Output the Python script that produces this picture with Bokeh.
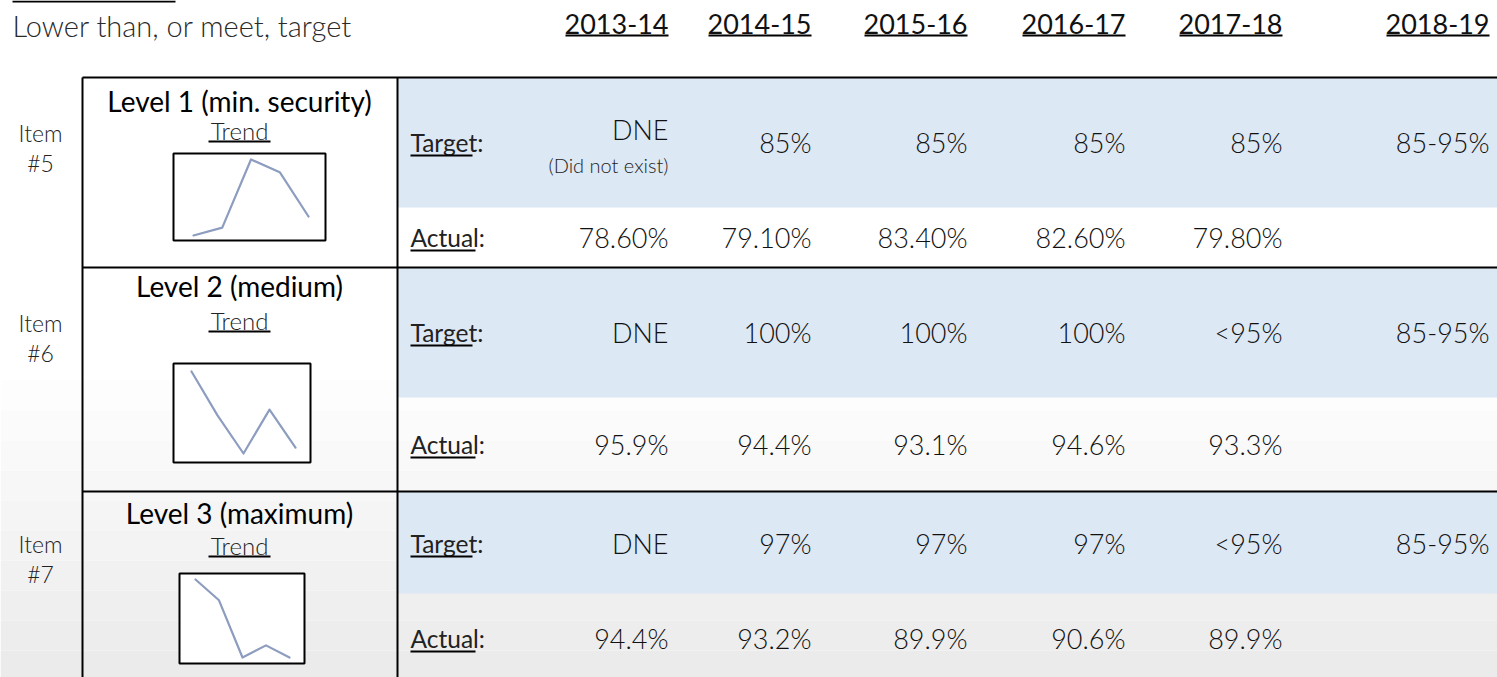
from bokeh.plotting import figure
from bokeh.models import Range1d
from bokeh.embed import file_html
from bokeh.resources import INLINE
from bokeh.core.properties import value

# ---------------- data ----------------
subtitle = "Lower than, or meet, target"
years = ["2013-14", "2014-15", "2015-16", "2016-17", "2017-18", "2018-19"]
levels = ["Level 1 (min. security)", "Level 2 (medium)", "Level 3 (maximum)"]
items = ["#5", "#6", "#7"]
targets_l1 = ["DNE", "85%", "85%", "85%", "85%", "85-95%"]
targets_l2 = ["DNE", "100%", "100%", "100%", "<95%", "85-95%"]
targets_l3 = ["DNE", "97%", "97%", "97%", "<95%", "85-95%"]
actual_l1 = [78.6, 79.1, 83.4, 82.6, 79.8]
actual_l2 = [95.9, 94.4, 93.1, 94.6, 93.3]
actual_l3 = [94.4, 93.2, 89.9, 90.6, 89.9]
actual_decimals = [2, 1, 1]
dne_note = "(Did not exist)"

targets = [targets_l1, targets_l2, targets_l3]
actuals = [actual_l1, actual_l2, actual_l3]

# ---------------- layout (reference pixel coordinates) ----------------
W, H = 1497, 677
X0, Y0 = 0, 0
FONT = value("Lato")
LIGHT = value("Lato Light")
col_right = [668, 811, 967, 1125, 1282, 1489]
header_y = 23
table_left, divider_x, table_right = 82, 397, 1500
block_tops = [77, 267, 491]
target_bottoms = [207, 397, 593]
table_bottom = 700
target_y = [142, 332, 543]
actual_y = [237, 444, 638]
title_y = [100, 285, 512]
trend_y = [130, 320, 545]
item_y = [(132, 162), (322, 352), (543, 573)]
cell_cx = 239
label_x = 410
boxes = [(173, 325, 153, 240), (173, 310, 363, 462), (179, 304, 573, 663)]
line_px = [(193, 308, 159, 235), (191, 295, 371, 453), (195, 289, 579, 657)]

p = figure(width=W, height=H, x_range=Range1d(X0, X0 + W), y_range=Range1d(Y0 + H, Y0),
           output_backend="svg", toolbar_location=None,
           x_axis_location=None, y_axis_location=None, min_border=0)
p.grid.visible = False
p.outline_line_color = None
p.background_fill_color = "white"
p.border_fill_color = "white"

# subtle grey gradient of the slide background (lower part)
band_tops = [380, 410, 440, 470, 500, 530, 560, 590, 620, 650]
band_cols = ["#fdfdfd", "#fbfbfb", "#f9f9f9", "#f7f7f7", "#f5f5f5",
             "#f3f3f3", "#f1f1f1", "#efefef", "#ededed", "#ebebeb"]
p.quad(left=0, right=1500, top=band_tops, bottom=[t + 30 for t in band_tops],
       fill_color=band_cols, line_color=None)

# blue target rows
p.quad(left=divider_x, right=table_right, top=block_tops, bottom=target_bottoms,
       fill_color="#dde8f5", line_color=None)

# table lines
p.segment(x0=table_left, x1=table_right, y0=block_tops, y1=block_tops,
          line_color="black", line_width=2)
p.segment(x0=[table_left, divider_x], x1=[table_left, divider_x], y0=block_tops[0],
          y1=table_bottom, line_color="black", line_width=2)

# remnant underline at top-left
p.segment(x0=12, x1=175, y0=1, y1=1, line_color="black", line_width=2)

# subtitle
p.text(x=12, y=25, text=[subtitle], text_font=LIGHT, text_font_size="29px",
       text_color="#2a2a2a", text_baseline="middle", text_align="left")

# year headers
p.text(x=col_right, y=header_y, text=years, text_font=FONT, text_font_size="27px",
       text_color="#111111", text_baseline="middle", text_align="right")
p.segment(x0=[c - 103 for c in col_right], x1=col_right, y0=header_y + 12, y1=header_y + 12,
          line_color="black", line_width=2)

for k in range(3):
    # item labels
    p.text(x=40, y=list(item_y[k]), text=["Item", items[k]], text_font=LIGHT,
           text_font_size="23px", text_color="#222222", text_baseline="middle",
           text_align="center")
    # level title
    p.text(x=cell_cx, y=title_y[k], text=[levels[k]], text_font=FONT, text_font_size="28px",
           text_color="black", text_baseline="middle", text_align="center")
    p.text(x=cell_cx, y=trend_y[k], text=["Trend"], text_font=LIGHT, text_font_size="24px",
           text_color="#222222", text_baseline="middle", text_align="center")
    p.segment(x0=cell_cx - 31, x1=cell_cx + 31, y0=trend_y[k] + 11, y1=trend_y[k] + 11,
              line_color="black", line_width=2)
    # sparkline box
    bx0, bx1, by0, by1 = boxes[k]
    p.quad(left=bx0, right=bx1, top=by0, bottom=by1, fill_color="white",
           line_color="black", line_width=2)
    # row labels
    p.text(x=label_x, y=[target_y[k], actual_y[k]], text=["Target:", "Actual:"], text_font=FONT,
           text_font_size="24.5px", text_color="#222222", text_baseline="middle", text_align="left")
    p.segment(x0=label_x, x1=[label_x + 62, label_x + 65], y0=[target_y[k] + 13, actual_y[k] + 13],
              y1=[target_y[k] + 13, actual_y[k] + 13], line_color="black", line_width=2)
    # target values
    ty = [target_y[k]] * len(targets[k])
    if k == 0:
        ty = [target_y[k] - 13] + ty[1:]
    p.text(x=col_right, y=ty, text=targets[k], text_font=LIGHT, text_font_size="27px",
           text_color="#111111", text_baseline="middle", text_align="right")
    # actual values
    d = actual_decimals[k]
    txt = [f"{v:.{d}f}%" for v in actuals[k]]
    p.text(x=col_right[:len(txt)], y=actual_y[k], text=txt, text_font=LIGHT, text_font_size="27px",
           text_color="#111111", text_baseline="middle", text_align="right")

p.text(x=col_right[0], y=target_y[0] + 22, text=[dne_note], text_font=LIGHT, text_font_size="20px",
       text_color="#222222", text_baseline="middle", text_align="right")

# sparklines drawn through their own scales
xr, yr = {}, {}
for k, vals in enumerate(actuals):
    a, b, ytop, ybot = line_px[k]
    n = len(vals)
    span_x = (n - 1) * W / (b - a)
    sx = -(a - X0) * span_x / W
    vmin, vmax = min(vals), max(vals)
    span_y = (vmax - vmin) * H / (ybot - ytop)
    sy = vmin - ((Y0 + H) - ybot) * span_y / H
    xr[f"sx{k}"] = Range1d(sx, sx + span_x)
    yr[f"sy{k}"] = Range1d(sy, sy + span_y)
p.extra_x_ranges = xr
p.extra_y_ranges = yr
for k, vals in enumerate(actuals):
    p.line(x=list(range(len(vals))), y=vals, x_range_name=f"sx{k}", y_range_name=f"sy{k}",
           line_color="#8d9dbf", line_width=2.2, line_join="round", line_cap="round")

open("out.html", "w").write(file_html(p, INLINE))
